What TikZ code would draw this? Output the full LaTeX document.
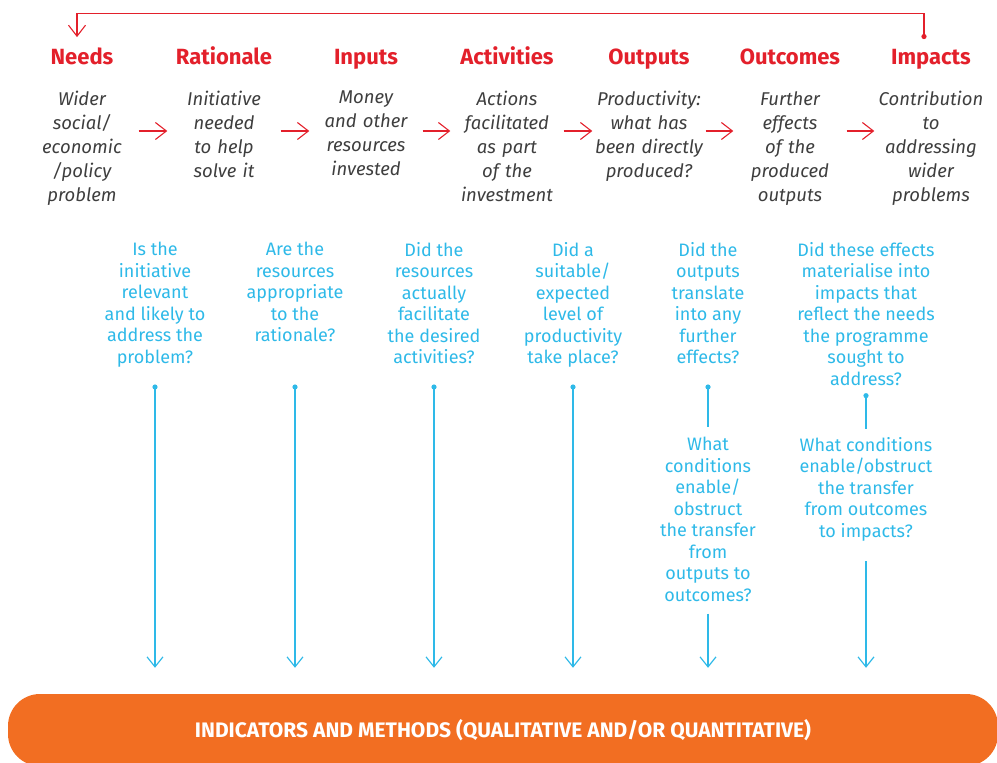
\documentclass[tikz,border=0pt]{standalone}
\usepackage{fontspec}
\setmainfont{Fira Sans}
\usetikzlibrary{arrows.meta}
\definecolor{stepred}{HTML}{E3202B}
\definecolor{textgrey}{HTML}{3E3E3E}
\definecolor{askblue}{HTML}{2EB9E8}
\definecolor{barorange}{HTML}{F26E22}

\begin{document}
\begin{tikzpicture}[
		x=1pt, y=-1pt,
		head/.style={anchor=base, inner sep=0, text=stepred, font=\bfseries\fontsize{22}{26}\selectfont},
		what/.style={anchor=north, inner sep=0, text width=113pt, align=center, text=textgrey, font=\itshape\fontsize{18.5}{24}\selectfont},
		ask/.style={anchor=north, inner sep=0, align=center, text=askblue, font=\fontsize{18}{21.5}\selectfont},
		flow/.style={draw=stepred, line width=1.1pt, -{Straight Barb[length=11pt,width=17pt]}},
		feedback/.style={draw=stepred, line width=1.1pt, -{Straight Barb[length=11pt,width=17pt]}},
		probe/.style={draw=askblue, line width=1.2pt, -{Straight Barb[length=10pt,width=16pt]}},
		link/.style={draw=askblue, line width=1.2pt},
		bar/.style={fill=barorange, rounded corners=32pt, minimum width=990pt, minimum height=72pt, text=white, font=\bfseries\fontsize{21}{24}\selectfont},
	]
	\useasboundingbox (0,0) rectangle (997,763);
	\clip (0,0) rectangle (997,763);

	% logic chain
	\node[head] (h1) at (82,64) {Needs};
	\node[head] (h2) at (224,64) {Rationale};
	\node[head] (h3) at (366,64) {Inputs};
	\node[head] (h4) at (507,64) {Activities};
	\node[head] (h5) at (649,64) {Outputs};
	\node[head] (h6) at (790,64) {Outcomes};
	\node[head] (h7) at (931,64) {Impacts};

	\node[what] (b1) at (82,91) {Wider\\social/\\economic\\/policy\\problem};
	\node[what] (b2) at (224,91) {Initiative\\needed\\to help\\solve it};
	\node[what] (b3) at (366,91) {Money\\and other\\resources\\invested};
	\node[what] (b4) at (507,91) {Actions\\facilitated\\as part\\of the\\investment};
	\node[what] (b5) at (649,91) {Productivity:\\what has\\been directly\\produced?};
	\node[what] (b6) at (790,91) {Further\\effects\\of the\\produced\\outputs};
	\node[what] (b7) at (931,91) {Contribution\\to\\addressing\\wider\\problems};

	\draw[flow] ([yshift=-40pt]b1.north east) -- ([yshift=-40pt]b2.north west);
	\draw[flow] ([yshift=-40pt]b2.north east) -- ([yshift=-40pt]b3.north west);
	\draw[flow] ([yshift=-40pt]b3.north east) -- ([yshift=-40pt]b4.north west);
	\draw[flow] ([yshift=-40pt]b4.north east) -- ([yshift=-40pt]b5.north west);
	\draw[flow] ([yshift=-40pt]b5.north east) -- ([yshift=-40pt]b6.north west);
	\draw[flow] ([yshift=-40pt]b6.north east) -- ([yshift=-40pt]b7.north west);

	\path ([xshift=-7pt,yshift=12pt]h7.north) coordinate (fbstart);
	\draw[feedback] (fbstart) -- ++(0,-23) -| ([xshift=-5pt,yshift=10pt]h1.north);
	\fill[stepred] (fbstart) circle (2.6pt);

	% evaluation questions
	\node[ask] (q1) at (155,242) {Is the\\initiative\\relevant\\and likely to\\address the\\problem?};
	\node[ask] (q2) at (295,242) {Are the\\resources\\appropriate\\to the\\rationale?};
	\node[ask] (q3) at (434,242) {Did the\\resources\\actually\\facilitate\\the desired\\activities?};
	\node[ask] (q4) at (573,242) {Did a\\suitable/\\expected\\level of\\productivity\\take place?};
	\node[ask] (q5) at (708,242) {Did the\\outputs\\translate\\into any\\further\\effects?};
	\node[ask] (q6) at (866,242) {Did these effects\\materialise into\\impacts that\\reflect the needs\\the programme\\sought to\\address?};

	\node[ask] (c5) at (708,437) {What\\conditions\\enable/\\obstruct\\the transfer\\from\\outputs to\\outcomes?};
	\node[ask] (c6) at (866,437) {What conditions\\enable/obstruct\\the transfer\\from outcomes\\to impacts?};

	\node[bar] (bar) at (503,730) {INDICATORS AND METHODS (QUALITATIVE AND/OR QUANTITATIVE)};

	\coordinate (dotrow) at (0,387);
	\draw[probe, shorten >=26pt] (q1 |- dotrow) -- (q1 |- bar.north);
	\draw[probe, shorten >=26pt] (q2 |- dotrow) -- (q2 |- bar.north);
	\draw[probe, shorten >=26pt] (q3 |- dotrow) -- (q3 |- bar.north);
	\draw[probe, shorten >=26pt] (q4 |- dotrow) -- (q4 |- bar.north);
	\fill[askblue] (q1 |- dotrow) circle (2.6pt) (q2 |- dotrow) circle (2.6pt)
		(q3 |- dotrow) circle (2.6pt) (q4 |- dotrow) circle (2.6pt);

	\draw[link, shorten >=10pt] (q5 |- dotrow) -- (c5.north);
	\draw[link, shorten >=8pt] ([yshift=-10pt]q6.south) -- (c6.north);
	\fill[askblue] (q5 |- dotrow) circle (2.6pt) ([yshift=-10pt]q6.south) circle (2.6pt);
	\draw[probe, shorten <=12pt, shorten >=26pt] (c5.south) -- (c5 |- bar.north);
	\draw[probe, shorten <=20pt, shorten >=26pt] (c6.south) -- (c6 |- bar.north);
\end{tikzpicture}
\end{document}
